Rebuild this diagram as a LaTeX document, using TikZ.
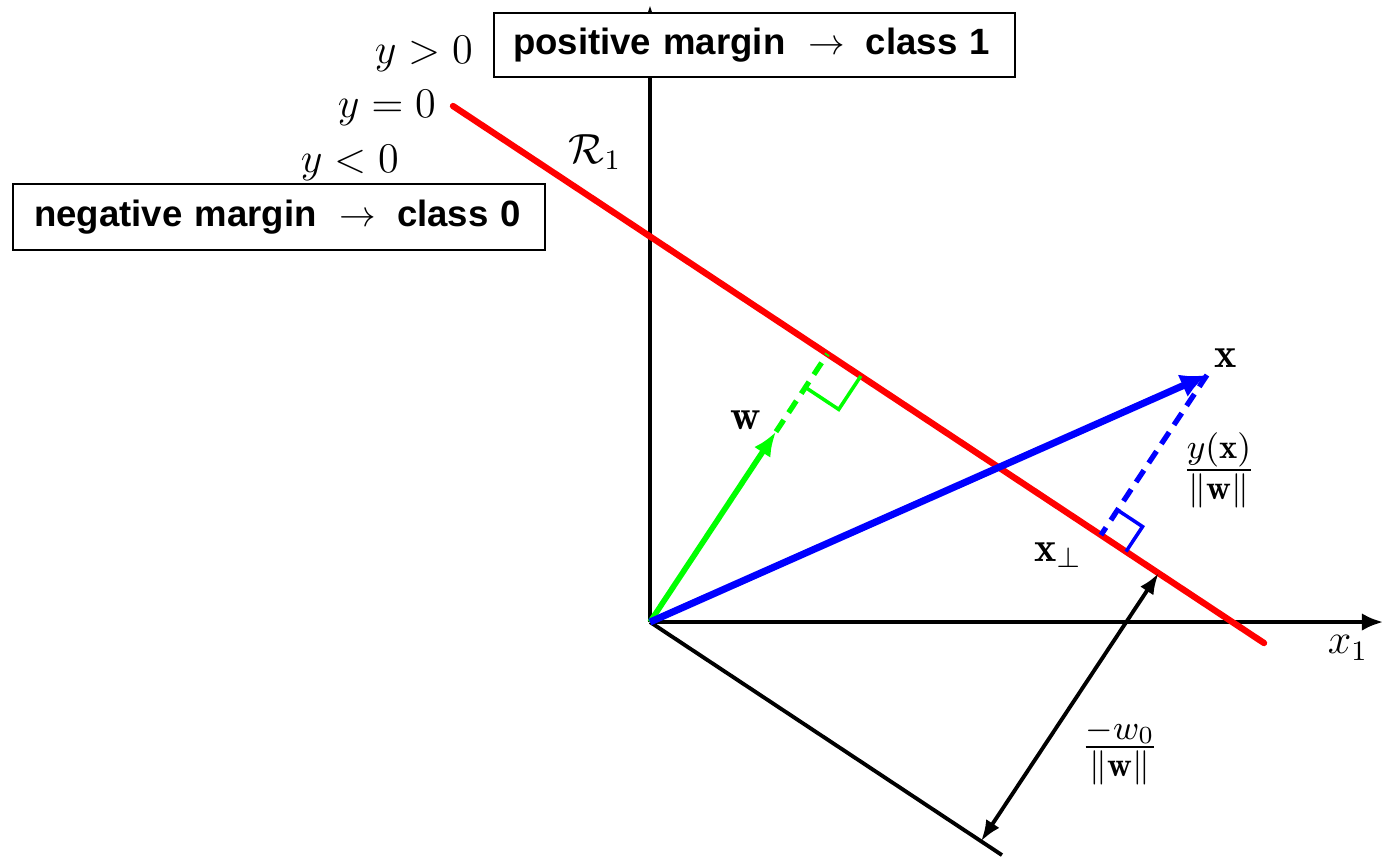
\RequirePackage{fix-cm}
\documentclass[tikz,border=0pt]{standalone}
\usepackage{amsmath,amssymb}
\usepackage{fontspec}
\newfontfamily\boxfont{Liberation Sans}
\usepackage{tikz}
\usetikzlibrary{arrows.meta}
\usetikzlibrary{calc}
\usepackage{xcolor}

\newcommand{\marginarrow}{\hspace{6.5pt}$\rightarrow$\hspace{6pt}}

\tikzset{
	axis/.style={line width=1.1pt,-{Latex[length=6pt,width=5pt]}},
	hyperplane/.style={red,line width=1.8pt,line cap=round},
	marginbox/.style={draw,line width=0.6pt,fill=white,font=\boxfont\bfseries\fontsize{10.4}{12}\selectfont,inner ysep=0pt,align=left},
	lab/.style={font=\large,inner sep=1pt},
	vlab/.style={font=\large,inner sep=1pt},
	flab/.style={font=\fontsize{14}{16}\selectfont,inner sep=1pt},
	rightmark/.style={line width=1pt}
}

\begin{document}
\begin{tikzpicture}[x=0.01cm,y=-0.01cm]
			\useasboundingbox (0,0) rectangle (1383,856);
			
			% points
			\coordinate (O) at (650,622);
			\coordinate (xend) at (1383,622);
			\coordinate (yend) at (650,5);
			\coordinate (hypA) at (453,106);
			\coordinate (hypB) at (1264,643);
			\coordinate (xtip) at (1207,375);
			\coordinate (wfoot) at ($(hypA)!(O)!(hypB)$);
			\coordinate (wtip) at ($(O)!0.71!(wfoot)$);
			\coordinate (xfoot) at ($(hypA)!(xtip)!(hypB)$);
			\coordinate (oend) at ($(O)+0.434*(811,537)$);
			\coordinate (dtop) at ($(hypA)!0.87!(hypB)$);
			\coordinate (dbot) at ($(O)!(dtop)!(oend)$);
			
			% axes
			\draw[axis] (O) -- (xend);
			\draw[axis] (O) -- (yend);
			
			% decision boundary y=0 and its parallel through the origin
			\draw[hyperplane] (hypA) -- (hypB);
			\draw[line width=1.1pt] (O) -- (oend);
			\draw[line width=1.1pt,{Latex[length=6pt,width=4.5pt]}-{Latex[length=6pt,width=4.5pt]}] (dbot) -- (dtop);
			
			% w and its right angle
			\draw[green,line width=1.5pt,dash pattern=on 4pt off 2.5pt] (wtip) -- (wfoot);
			\draw[green,line width=1.6pt,-{Latex[length=7pt,width=5.5pt]}] (O) -- (wtip);
			\draw[green,rightmark] ($(wfoot)!0.4cm!(O)$) -- ($($(wfoot)!0.4cm!(O)$)+($(wfoot)!0.4cm!(hypB)$)-(wfoot)$) -- ($(wfoot)!0.4cm!(hypB)$);
			
			% x and its distance to the boundary
			\draw[blue,line width=1.5pt,dash pattern=on 4pt off 2.5pt] (xtip) -- (xfoot);
			\draw[blue,rightmark] ($(xfoot)!0.3cm!(xtip)$) -- ($($(xfoot)!0.3cm!(xtip)$)+($(xfoot)!0.3cm!(hypB)$)-(xfoot)$) -- ($(xfoot)!0.3cm!(hypB)$);
			\draw[blue,line width=2pt,-{Latex[length=7.5pt,width=7pt]}] (O) -- (xtip);
			
			% labels
			\node[lab,anchor=base east] (ypos) at (477,63) {$y>0$};
			\node[lab,anchor=base east] (yzero) at (440,117) {$y=0$};
			\node[lab,anchor=base east] (yneg) at (403,172) {$y<0$};
			\node[lab] (Rone) at (595,152) {$\mathcal{R}_1$};
			\node[lab] (xone) at (1348,648) {$x_1$};
			\node[vlab] (wlab) at (746,420) {$\mathbf{w}$};
			\node[vlab] (xlab) at (1226,358) {$\mathbf{x}$};
			\node[vlab] (xperp) at (1058,555) {$\mathbf{x}_\perp$};
			\node[flab] (ydist) at (1219,470) {$\frac{y(\mathbf{x})}{\|\mathbf{w}\|}$};
			\node[flab] (wdist) at (1120,752) {$\frac{-w_0}{\|\mathbf{w}\|}$};
			
			% margin boxes
			\node[marginbox,anchor=west,inner xsep=0.19cm,text width=4.83cm,minimum height=0.64cm] (posbox) at (493,45) {positive margin\marginarrow class 1};
			\node[marginbox,anchor=west,inner xsep=0.21cm,text width=4.9cm,minimum height=0.66cm] (negbox) at (12,217) {negative margin\marginarrow class 0};
		\end{tikzpicture}
\end{document}
